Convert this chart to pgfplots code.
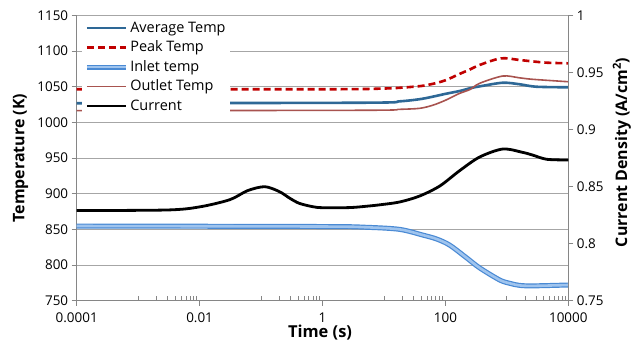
\documentclass[border=0pt]{standalone}
\usepackage{fontspec}
\setmainfont{Open Sans}
\usepackage{pgfplots}
\pgfplotsset{compat=1.18}
\definecolor{avgblue}{HTML}{2E6896}
\definecolor{peakred}{HTML}{C00000}
\definecolor{inletblue}{HTML}{4A8AD4}
\definecolor{inletin}{HTML}{9FC4EE}
\definecolor{outletc}{HTML}{A8534F}
\definecolor{gridc}{HTML}{A6A6A6}
\definecolor{axisc}{HTML}{868686}

\pgfplotstableread{
t T
1e-4 1026.8
5 1027.6
18 1029.5
38 1032.5
62 1036
100 1040
171 1044
250 1047.8
361 1050.5
857 1055.6
1600 1053.5
3000 1050
10000 1049.2
}\avgdata
\pgfplotstableread{
t T
1e-4 1046.5
1.5 1046.5
10 1047.5
18 1048.5
40 1051
62 1054
100 1059
171 1068
248 1074
361 1080.5
800 1089.8
1600 1087.5
2630 1085.5
4467 1083.7
10000 1082.8
}\peakdata
\pgfplotstableread{
t T
1e-4 854.7
1 854
5.25 852.9
18 850
43 842
72 836.5
117 828
222 810
361 796
766 779
1114 774.4
1600 771.5
2630 770.8
10000 772
}\inletdata
\pgfplotstableread{
t T
1e-4 1016.4
5 1017
18 1018.3
38 1019.7
62 1024
100 1031
171 1040.8
250 1046
361 1054.8
857 1065
1600 1062.5
2630 1060.4
10000 1057
}\outletdata
\pgfplotstableread{
t J
1e-4 0.829
0.003 0.8295
0.01 0.8322
0.031 0.8385
0.06 0.8464
0.115 0.8499
0.2 0.8455
0.295 0.8397
0.42 0.8353
0.69 0.8324
1.0 0.8315
2.77 0.8316
5.25 0.8328
8.5 0.834
18 0.8365
38 0.8417
81 0.8505
171 0.864
361 0.8759
857 0.8829
1800 0.8800
2630 0.8776
4467 0.8739
10000 0.8733
}\curdata

\pgfplotsset{
  mybase/.style={
    scale only axis, width=491.6bp, height=285.3bp,
    xmin=1e-4, xmax=1e4,
    ticklabel style={font=\fontsize{13.5}{13.5}\selectfont},
    /pgf/number format/assume math mode=true,
    axis line style={axisc, line width=0.8pt},
    every tick/.style={axisc, line width=0.8pt},
    major tick length=5bp, minor tick length=4.5bp,
  }
}

\begin{document}
\begin{tikzpicture}
% minor x ticks (inside)
\begin{axis}[xmode=log, mybase,
  axis y line=none, axis x line*=bottom,
  tick align=inside, major tick length=4.5bp,
  xtick={0.001,0.002,0.003,0.004,0.005,0.006,0.007,0.008,0.009,
    0.1,0.2,0.3,0.4,0.5,0.6,0.7,0.8,0.9,
    10,20,30,40,50,60,70,80,90,
    1000,2000,3000,4000,5000,6000,7000,8000,9000},
  xticklabels={},
  ymin=750, ymax=1150]
\addplot[draw=none] coordinates {(1,800)};
\end{axis}
% left axis: temperatures
\begin{axis}[xmode=log, mybase,
  axis x line*=bottom, axis y line*=left,
  tick align=outside,
  ymin=750, ymax=1150, ytick={750,800,...,1150},
  yticklabel style={/pgf/number format/1000 sep={}},
  ymajorgrids, grid style={gridc, line width=0.8pt},
  xtick={1e-4,0.01,1,100,10000},
  xticklabels={0.0001,0.01,1,100,10000},
  xticklabel style={yshift=-4bp},
  xlabel={\bfseries Time (s)},
  xlabel style={at={(axis description cs:0.495,-0.11)}, anchor=center, font=\fontsize{16.5}{16.5}\selectfont},
  ylabel={\bfseries Temperature (K)},
  ylabel style={at={(axis description cs:-0.114,0.5)}, anchor=center, rotate=0, font=\fontsize{16}{16}\selectfont},
  legend style={at={(axis description cs:0.011,0.994)}, anchor=north west,
    draw=none, fill=white, inner xsep=2bp, inner ysep=1bp,
    font=\fontsize{14.5}{14.5}\selectfont,
    nodes={inner sep=2bp, text height=12bp, text depth=3.5bp},
    row sep=0bp},
  legend cell align=left,
  legend image code/.code={\draw[#1] (0bp,0bp) -- (39bp,0bp);},
]
\addplot[avgblue, line width=2.6bp, smooth] table[x=t,y=T]{\avgdata};
\addlegendentry{Average Temp}
\addplot[peakred, line width=2.6bp, dash pattern=on 7bp off 4bp, smooth] table[x=t,y=T]{\peakdata};
\addlegendentry{Peak Temp}
\addplot[inletblue, line width=1.2bp, double=inletin, double distance=2.6bp, smooth] table[x=t,y=T]{\inletdata};
\addlegendentry{Inlet temp}
\addplot[outletc, line width=1.6bp, smooth] table[x=t,y=T]{\outletdata};
\addlegendentry{Outlet Temp}
\addlegendimage{black, line width=2.6bp}
\addlegendentry{Current}
\end{axis}
% right axis: current density
\begin{axis}[xmode=log, mybase,
  axis x line=none, axis y line*=right,
  tick align=outside,
  ymin=0.75, ymax=1, ytick={0.75,0.8,0.85,0.9,0.95,1},
  yticklabels={0.75,0.8,0.85,0.9,0.95,1},
  ylabel={\bfseries Current Density (A/cm\textsuperscript{2})},
  ylabel style={at={(axis description cs:1.109,0.52)}, anchor=center, rotate=0, font=\fontsize{16}{16}\selectfont},
]
\addplot[black, line width=2.8bp, smooth] table[x=t,y=J]{\curdata};
\end{axis}
\pgfresetboundingbox
\path[use as bounding box] (-76.7bp,-45.3bp) rectangle (555.3bp,300.7bp);
\end{tikzpicture}
\end{document}
